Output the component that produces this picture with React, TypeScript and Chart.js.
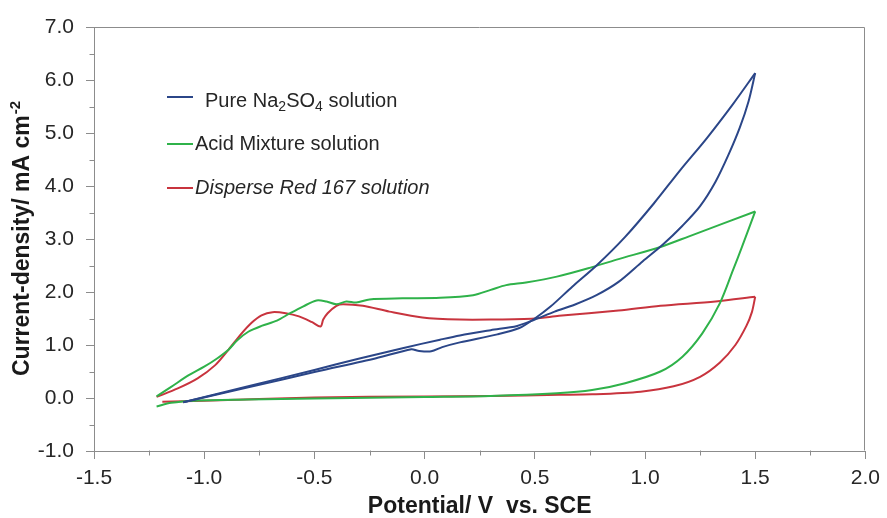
import React, { useEffect, useRef } from "react";
import { Chart, registerables } from "chart.js";

Chart.register(...registerables);

// ---- axis ticks ----
const xTickValues = [-1.5, -1.0, -0.5, 0.0, 0.5, 1.0, 1.5, 2.0];
const yTickValues = [-1.0, 0.0, 1.0, 2.0, 3.0, 4.0, 5.0, 6.0, 7.0];
const xMinorTicks = [-1.25, -0.75, -0.25, 0.25, 0.75, 1.25, 1.75];
const yMinorTicks = [-0.5, 0.5, 1.5, 2.5, 3.5, 4.5, 5.5, 6.5];

// ---- Pure Na2SO4 solution (blue) ----
const bluePotentialFwd = [-1.095, -0.8, -0.5, -0.3, -0.1, 0.07, 0.16, 0.3, 0.42, 0.5, 0.59, 0.68, 0.78, 0.88, 0.99, 1.08, 1.17, 1.25, 1.32, 1.38, 1.43, 1.47, 1.5];
const blueCurrentFwd = [-0.08, 0.22, 0.53, 0.74, 0.94, 1.1, 1.18, 1.28, 1.36, 1.48, 1.63, 1.76, 1.94, 2.19, 2.58, 2.89, 3.25, 3.62, 4.08, 4.6, 5.1, 5.6, 6.13];
const bluePotentialRev = [1.5, 1.4, 1.28, 1.16, 1.04, 0.91, 0.78, 0.67, 0.57, 0.5, 0.43, 0.33, 0.16, 0.08, 0.03, -0.03, -0.06, -0.22, -0.5, -0.8, -1.095];
const blueCurrentRev = [6.13, 5.55, 4.9, 4.3, 3.67, 3.04, 2.5, 2.1, 1.72, 1.5, 1.32, 1.2, 1.05, 0.96, 0.88, 0.89, 0.92, 0.75, 0.49, 0.2, -0.08];

// ---- Acid Mixture solution (green) ----
const greenPotentialFwd = [-1.216, -1.15, -1.04, -0.8, -0.5, 0.0, 0.3, 0.6, 0.76, 0.91, 1.07, 1.17, 1.26, 1.34, 1.4, 1.44, 1.5];
const greenCurrentFwd = [-0.16, -0.09, -0.05, -0.03, -0.01, 0.02, 0.04, 0.09, 0.15, 0.28, 0.5, 0.78, 1.22, 1.79, 2.42, 2.85, 3.52];
const greenPotentialRev = [1.5, 1.2, 1.07, 0.88, 0.76, 0.6, 0.46, 0.37, 0.3, 0.22, 0.07, -0.1, -0.25, -0.31, -0.355, -0.4, -0.445, -0.49, -0.55, -0.61, -0.67, -0.74, -0.8, -0.85, -0.89, -0.94, -1.0, -1.07, -1.15, -1.216];
const greenCurrentRev = [3.52, 3.05, 2.85, 2.62, 2.47, 2.29, 2.18, 2.13, 2.04, 1.94, 1.89, 1.88, 1.86, 1.8, 1.82, 1.77, 1.82, 1.84, 1.73, 1.6, 1.46, 1.36, 1.25, 1.09, 0.91, 0.75, 0.59, 0.43, 0.21, 0.03];

// ---- Disperse Red 167 solution (red) ----
const redPotentialFwd = [-1.19, -1.0, -0.5, 0.0, 0.3, 0.61, 0.76, 0.98, 1.13, 1.25, 1.34, 1.41, 1.46, 1.485, 1.5];
const redCurrentFwd = [-0.07, -0.05, 0.01, 0.03, 0.04, 0.06, 0.07, 0.12, 0.22, 0.4, 0.67, 1.0, 1.36, 1.62, 1.91];
const redPotentialRev = [1.5, 1.32, 1.07, 0.88, 0.61, 0.5, 0.3, 0.16, -0.01, -0.16, -0.28, -0.37, -0.4, -0.44, -0.46, -0.472, -0.51, -0.57, -0.63, -0.69, -0.74, -0.785, -0.83, -0.89, -0.95, -1.03, -1.12, -1.216];
const redCurrentRev = [1.91, 1.82, 1.74, 1.65, 1.55, 1.5, 1.48, 1.48, 1.52, 1.63, 1.74, 1.77, 1.74, 1.6, 1.48, 1.35, 1.43, 1.54, 1.6, 1.62, 1.56, 1.42, 1.22, 0.91, 0.62, 0.37, 0.18, 0.02];

const seriesNames = ["Pure Na2SO4 solution", "Acid Mixture solution", "Disperse Red 167 solution"];
const seriesColors = ["#2b4688", "#2fb24a", "#c8343e"];

const FONT = '"Liberation Sans", Arial, Helvetica, sans-serif';
const TEXT = "#262626";
const AXIS = "#8c8c8c";

const toPoints = (xs: number[], ys: number[]) => xs.map((x, i) => ({ x, y: ys[i] }));

const decorPlugin = {
  id: "cvDecor",
  afterDraw(chart: any) {
    const { ctx, chartArea } = chart;
    const xs = chart.scales.x;
    const ys = chart.scales.y;
    const L = Math.round(chartArea.left) + 0.5;
    const R = Math.round(chartArea.right) - 0.5;
    const T = Math.round(chartArea.top) + 0.5;
    const B = Math.round(chartArea.bottom) - 0.5;
    ctx.save();
    ctx.strokeStyle = AXIS;
    ctx.lineWidth = 1;
    ctx.beginPath();
    ctx.moveTo(L, T);
    ctx.lineTo(R, T);
    ctx.lineTo(R, B);
    // minor ticks
    yMinorTicks.forEach((v) => {
      const py = Math.round(ys.getPixelForValue(v)) + 0.5;
      ctx.moveTo(L - 5, py);
      ctx.lineTo(L, py);
    });
    xMinorTicks.forEach((v) => {
      const px = Math.round(xs.getPixelForValue(v)) + 0.5;
      ctx.moveTo(px, B);
      ctx.lineTo(px, B + 5);
    });
    ctx.stroke();

    // legend
    const rows = [70, 117, 161];
    ctx.lineWidth = 2;
    rows.forEach((dy, i) => {
      ctx.strokeStyle = seriesColors[i];
      ctx.beginPath();
      ctx.moveTo(chartArea.left + 73, chartArea.top + dy);
      ctx.lineTo(chartArea.left + 99, chartArea.top + dy);
      ctx.stroke();
    });
    ctx.fillStyle = TEXT;
    ctx.textBaseline = "middle";
    ctx.textAlign = "left";
    const main = `20px ${FONT}`;
    const sub = `14px ${FONT}`;
    // Pure Na2SO4 solution with subscripts
    let x = chartArea.left + 111;
    const y0 = chartArea.top + 74;
    const parts: [string, boolean][] = [["Pure Na", false], ["2", true], ["SO", false], ["4", true], [" solution", false]];
    parts.forEach(([t, isSub]) => {
      ctx.font = isSub ? sub : main;
      ctx.fillText(t, x, isSub ? y0 + 6 : y0);
      x += ctx.measureText(t).width;
    });
    ctx.font = main;
    ctx.fillText(seriesNames[1], chartArea.left + 101, chartArea.top + 117);
    ctx.font = `italic 20px ${FONT}`;
    ctx.fillText(seriesNames[2], chartArea.left + 101, chartArea.top + 161);

    // y-axis title with superscript
    const cy = (chartArea.top + chartArea.bottom) / 2;
    ctx.translate(23, cy);
    ctx.rotate(-Math.PI / 2);
    const t1 = "Current-density/ mA cm";
    const t2 = "-2";
    ctx.font = `bold 23px ${FONT}`;
    const w1 = ctx.measureText(t1).width;
    ctx.font = `bold 15px ${FONT}`;
    const w2 = ctx.measureText(t2).width;
    const sx = -(w1 + w2) / 2;
    ctx.font = `bold 23px ${FONT}`;
    ctx.fillStyle = "#1a1a1a";
    ctx.fillText(t1, sx, 0);
    ctx.font = `bold 15px ${FONT}`;
    ctx.fillText(t2, sx + w1 + 1, -7);
    ctx.restore();
  },
};

const lineDs = (data: any[], color: string) => ({
  data,
  showLine: true,
  borderColor: color,
  backgroundColor: color,
  borderWidth: 2,
  pointRadius: 0,
  pointHoverRadius: 0,
  tension: 0.3,
  fill: false,
});

export default function App() {
  const ref = useRef<HTMLCanvasElement | null>(null);
  useEffect(() => {
    if (!ref.current) return;
    const chart = new Chart(ref.current, {
      type: "scatter",
      data: {
        datasets: [
          lineDs(toPoints(bluePotentialFwd, blueCurrentFwd), seriesColors[0]),
          lineDs(toPoints(bluePotentialRev, blueCurrentRev), seriesColors[0]),
          lineDs(toPoints(greenPotentialFwd, greenCurrentFwd), seriesColors[1]),
          lineDs(toPoints(greenPotentialRev, greenCurrentRev), seriesColors[1]),
          lineDs(toPoints(redPotentialFwd, redCurrentFwd), seriesColors[2]),
          lineDs(toPoints(redPotentialRev, redCurrentRev), seriesColors[2]),
        ],
      },
      options: {
        responsive: false,
        animation: false,
        devicePixelRatio: 1,
        layout: { padding: { top: 27, right: 21, left: 0, bottom: 0 } },
        plugins: { legend: { display: false }, tooltip: { enabled: false } },
        scales: {
          x: {
            type: "linear",
            min: -1.5,
            max: 2.0,
            afterBuildTicks: (s: any) => {
              s.ticks = xTickValues.map((v) => ({ value: v }));
            },
            afterFit: (s: any) => {
              s.height = 67;
            },
            ticks: {
              callback: (v: any) => Number(v).toFixed(1),
              font: { family: FONT, size: 21 },
              color: TEXT,
              padding: 7,
              maxRotation: 0,
              autoSkip: false,
            },
            grid: { drawOnChartArea: false, tickLength: 8, color: AXIS },
            border: { color: AXIS, width: 1 },
            title: {
              display: true,
              text: "Potential/ V  vs. SCE",
              font: { family: FONT, size: 23, weight: "bold", lineHeight: 1 },
              color: "#1a1a1a",
              padding: 0,
            },
          },
          y: {
            type: "linear",
            min: -1.0,
            max: 7.0,
            afterBuildTicks: (s: any) => {
              s.ticks = yTickValues.map((v) => ({ value: v }));
            },
            afterFit: (s: any) => {
              s.width = 94;
            },
            ticks: {
              callback: (v: any) => Number(v).toFixed(1),
              font: { family: FONT, size: 21 },
              color: TEXT,
              padding: 12,
              autoSkip: false,
            },
            grid: { drawOnChartArea: false, tickLength: 8, color: AXIS },
            border: { color: AXIS, width: 1 },
          },
        },
      },
      plugins: [decorPlugin],
    } as any);
    return () => chart.destroy();
  }, []);

  return (
    <div style={{ position: "fixed", left: 0, top: 0, width: 887, height: 518, background: "#fff" }}>
      <canvas ref={ref} width={887} height={518} />
    </div>
  );
}
